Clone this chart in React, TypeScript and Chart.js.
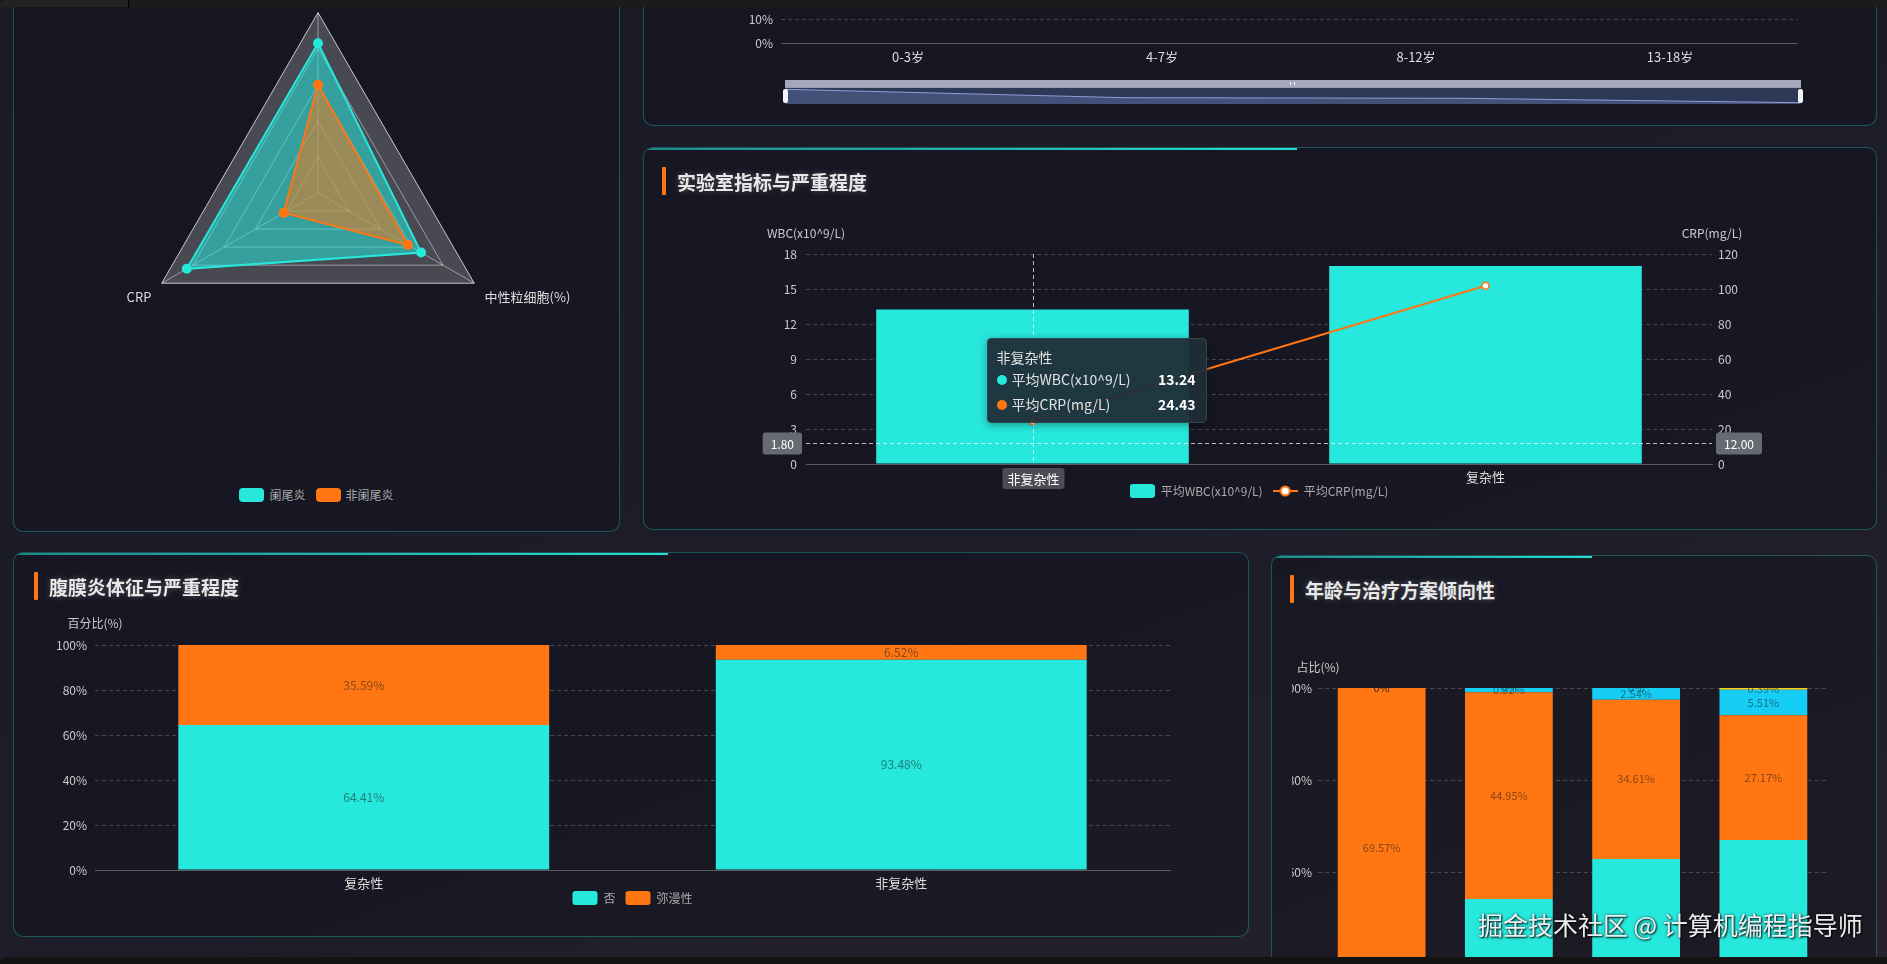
import React, { useEffect, useRef } from 'react';
import { Chart, registerables, Tooltip } from 'chart.js';

Chart.register(...registerables);

const FONT = "'Noto Sans CJK SC', 'Noto Sans', sans-serif";
const TEAL = '#27e8dc';
const ORANGE = '#ff7612';
const CYAN = '#16cdf5';
const YELLOW = '#ffd11a';
const GRID = 'rgba(255,255,255,0.2)';
const AXIS = 'rgba(255,255,255,0.3)';
const SEG_LABEL = 'rgba(30,30,30,0.55)';
const PANEL_BORDER = 'rgba(39,232,220,0.3)';
const PANEL_BG = 'rgba(12,12,20,0.28)';

// ---------------- data ----------------
const RADAR_INDICATORS = ['WBC', '中性粒细胞(%)', 'CRP'];
const RADAR_SERIES = ['阑尾炎', '非阑尾炎'];
const RADAR_APPENDICITIS = [83, 66, 84];
const RADAR_NON_APPENDICITIS = [60, 57.5, 22];

const AGE_GROUPS = ['0-3岁', '4-7岁', '8-12岁', '13-18岁'];
const AGE_SERIES = '复杂性比例';
const AGE_COMPLICATED_RATE = [52, 32, 30.5, 20];

const LAB_SEVERITY = ['非复杂性', '复杂性'];
const LAB_SERIES = ['平均WBC(x10^9/L)', '平均CRP(mg/L)'];
const AVG_WBC = [13.24, 16.98];
const AVG_CRP = [24.43, 101.9];
const LAB_POINTER_INDEX = 0;
const LAB_POINTER_WBC = 1.8;

const PERI_SEVERITY = ['复杂性', '非复杂性'];
const PERI_SERIES = ['否', '弥漫性'];
const PERI_NO = [64.41, 93.48];
const PERI_DIFFUSE = [35.59, 6.52];

const TREAT_SERIES = ['保守治疗', '手术治疗', '腹腔镜手术', '其他'];
const TREAT_A = [30.43, 54.13, 62.85, 66.93];
const TREAT_B = [69.57, 44.95, 34.61, 27.17];
const TREAT_C = [0, 0.92, 2.54, 5.51];
const TREAT_D = [0, 0, 0, 0.39];

// ---------------- helpers ----------------
function makeIcon(w: number, h: number, draw: (c: CanvasRenderingContext2D) => void) {
  const c = document.createElement('canvas');
  c.width = w;
  c.height = h;
  const ctx = c.getContext('2d');
  if (ctx) draw(ctx);
  return c;
}

const pct = (v: number) => `${+v.toFixed(2)}%`;

function segmentLabels(fontSize: number) {
  return {
    id: 'segmentLabels',
    afterDatasetsDraw(chart: any) {
      const { ctx } = chart;
      ctx.save();
      ctx.font = `${fontSize}px ${FONT}`;
      ctx.fillStyle = SEG_LABEL;
      ctx.textAlign = 'center';
      ctx.textBaseline = 'middle';
      chart.data.datasets.forEach((ds: any, di: number) => {
        const meta = chart.getDatasetMeta(di);
        meta.data.forEach((el: any, i: number) => {
          const p = el.getProps(['x', 'y', 'base'], true);
          ctx.fillText(pct(ds.data[i]), p.x, (p.y + p.base) / 2);
        });
      });
      ctx.restore();
    },
  };
}

function axisNames(left: string | null, right: string | null, offset: number) {
  return {
    id: 'axisNames',
    afterDraw(chart: any) {
      const { ctx, chartArea } = chart;
      ctx.save();
      ctx.font = `12px ${FONT}`;
      ctx.fillStyle = '#cccccc';
      ctx.textAlign = 'center';
      ctx.textBaseline = 'middle';
      if (left) ctx.fillText(left, chartArea.left, chartArea.top - offset);
      if (right) ctx.fillText(right, chartArea.right, chartArea.top - offset);
      ctx.restore();
    },
  };
}

// place the legend a fixed distance below the plot area
function legendAt(offset: number) {
  return {
    id: 'legendAt',
    afterLayout(chart: any) {
      const lg = chart.legend;
      if (!lg) return;
      const h = lg.height;
      lg.top = chart.chartArea.bottom + offset;
      lg.bottom = lg.top + h;
    },
  };
}

function labelBox(ctx: any, text: string, size: number, anchorX: number, cy: number, align: string, padX: number, h: number, bg: string, top?: number) {
  ctx.font = `${size}px ${FONT}`;
  const w = ctx.measureText(text).width + padX * 2;
  let x = anchorX - w / 2;
  if (align === 'right') x = anchorX - w;
  if (align === 'left') x = anchorX;
  const y = top !== undefined ? top : cy - h / 2;
  ctx.fillStyle = bg;
  ctx.beginPath();
  ctx.roundRect(x, y, w, h, 3);
  ctx.fill();
  ctx.fillStyle = '#ffffff';
  ctx.textAlign = 'center';
  ctx.textBaseline = 'middle';
  ctx.fillText(text, x + w / 2, y + h / 2 + 0.5);
}

const labCrosshair = {
  id: 'labCrosshair',
  afterDraw(chart: any) {
    const { ctx, chartArea, scales } = chart;
    const rawY = scales.y.getPixelForValue(LAB_POINTER_WBC);
    const x = Math.round(scales.x.getPixelForValue(LAB_POINTER_INDEX)) + 0.5;
    const y = Math.round(rawY) + 0.5;
    ctx.save();
    ctx.strokeStyle = 'rgba(255,255,255,0.7)';
    ctx.lineWidth = 1;
    ctx.setLineDash([4, 3]);
    ctx.beginPath();
    ctx.moveTo(x, chartArea.top);
    ctx.lineTo(x, chartArea.bottom);
    ctx.moveTo(chartArea.left, y);
    ctx.lineTo(chartArea.right, y);
    ctx.stroke();
    ctx.setLineDash([]);
    labelBox(ctx, LAB_POINTER_WBC.toFixed(2), 12, chartArea.left - 4, y, 'right', 8, 22, '#686a72');
    labelBox(ctx, scales.y1.getValueForPixel(rawY).toFixed(2), 12, chartArea.right + 4, y, 'left', 8, 22, '#686a72');
    labelBox(ctx, String(chart.data.labels[LAB_POINTER_INDEX]), 13, x, 0, 'center', 5, 21, '#4c4d54', chartArea.bottom + 4);
    ctx.restore();
  },
};

function externalTooltip(context: any) {
  const { chart, tooltip } = context;
  const canvas = chart.canvas as HTMLCanvasElement;
  const parent = canvas.parentElement as HTMLElement;
  let el = parent.querySelector('#lab-tooltip') as HTMLDivElement | null;
  if (!el) {
    el = document.createElement('div');
    el.id = 'lab-tooltip';
    parent.appendChild(el);
  }
  if (tooltip.opacity === 0) {
    el.style.display = 'none';
    return;
  }
  el.style.cssText = `position:absolute;box-sizing:border-box;width:220px;padding:8px 10px 5px 9px;background:rgba(31,45,56,0.95);border:1px solid #35454f;border-radius:4px;box-shadow:0 2px 8px rgba(0,0,0,0.35);color:#e2e2e2;font-size:14px;font-family:${FONT};z-index:6;pointer-events:none;`;
  const title = (tooltip.title && tooltip.title[0]) || '';
  const rows = tooltip.dataPoints
    .map((dp: any) => {
      const color = dp.dataset.tipColor;
      return `<div style="display:flex;align-items:center;height:25px;line-height:25px"><span style="width:10px;height:10px;border-radius:50%;background:${color};margin-right:5px;flex:none"></span><span style="flex:1;white-space:nowrap">${dp.dataset.label}</span><span style="font-weight:700;color:#ffffff">${Number(dp.raw).toFixed(2)}</span></div>`;
    })
    .join('');
  el.innerHTML = `<div style="height:20px;line-height:20px;white-space:nowrap">${title}</div>${rows}`;
  const h = el.offsetHeight;
  el.style.left = `${canvas.offsetLeft + tooltip.caretX + 22}px`;
  el.style.top = `${canvas.offsetTop + tooltip.caretY - h - 20}px`;
}

(Tooltip.positioners as any).pointer = function (_els: any, pos: any) {
  return pos ? { x: pos.x, y: pos.y } : false;
};

const yGrid = {
  color: (c: any) => (c.tick && c.tick.value === 0 ? 'rgba(0,0,0,0)' : GRID),
  drawTicks: false,
};

// ---------------- layout pieces ----------------
const Panel = ({ left, top, width, height, accent }: any) => (
  <div
    style={{
      position: 'absolute', left, top, width, height, boxSizing: 'border-box',
      border: `1px solid ${PANEL_BORDER}`, borderRadius: 10, background: PANEL_BG, overflow: 'hidden', zIndex: 0,
    }}
  >
    {accent && (
      <div style={{ position: 'absolute', left: 0, top: 0, width: '53%', height: 2, background: 'linear-gradient(90deg, rgba(39,232,220,0.55), rgba(39,232,220,0.95))' }} />
    )}
  </div>
);

const Title = ({ left, top, text }: any) => (
  <>
    <div style={{ position: 'absolute', left, top, width: 4, height: 28, background: ORANGE, borderRadius: 1, zIndex: 3 }} />
    <div
      style={{
        position: 'absolute', left: left + 15, top: top + 1, height: 28, lineHeight: '28px', fontSize: 19, fontWeight: 700,
        color: '#e8e8e8', textShadow: '0 0 6px rgba(255,255,255,0.25)', whiteSpace: 'nowrap', zIndex: 3,
      }}
    >
      {text}
    </div>
  </>
);

const cv = (left: number, top: number, w: number, h: number, z = 2) => ({
  width: w,
  height: h,
  style: { position: 'absolute' as const, left, top, width: w, height: h, zIndex: z },
});

export default function App() {
  const radarRef = useRef<HTMLCanvasElement>(null);
  const ageRef = useRef<HTMLCanvasElement>(null);
  const miniRef = useRef<HTMLCanvasElement>(null);
  const labRef = useRef<HTMLCanvasElement>(null);
  const periRef = useRef<HTMLCanvasElement>(null);
  const treatRef = useRef<HTMLCanvasElement>(null);

  useEffect(() => {
    Chart.defaults.font.family = FONT;
    Chart.defaults.color = '#cccccc';
    const charts: any[] = [];

    // radar
    charts.push(
      new Chart(radarRef.current as HTMLCanvasElement, {
        type: 'radar',
        data: {
          labels: RADAR_INDICATORS,
          datasets: [
            {
              label: RADAR_SERIES[0], data: RADAR_APPENDICITIS, borderColor: TEAL, backgroundColor: 'rgba(39,232,220,0.55)',
              borderWidth: 2, pointRadius: 4, pointBackgroundColor: TEAL, pointBorderColor: TEAL, order: 2,
            },
            {
              label: RADAR_SERIES[1], data: RADAR_NON_APPENDICITIS, borderColor: ORANGE, backgroundColor: 'rgba(255,118,18,0.5)',
              borderWidth: 2, pointRadius: 4, pointBackgroundColor: ORANGE, pointBorderColor: ORANGE, order: 1,
            },
          ],
        },
        options: {
          animation: false, responsive: false,
          plugins: { legend: { display: false }, tooltip: { enabled: false } },
          scales: {
            r: {
              min: 0, max: 100,
              ticks: { display: false, stepSize: 20 },
              backgroundColor: 'rgba(255,255,255,0.22)',
              grid: { color: (c: any) => (c.index === 5 ? '#c8c8d0' : 'rgba(255,255,255,0.45)'), lineWidth: 1 },
              angleLines: { color: 'rgba(255,255,255,0.45)' },
              pointLabels: { color: '#dddddd', font: { size: 13 }, padding: (c: any) => (c.index === 0 ? 5 : 12) },
            },
          },
        } as any,
      })
    );

    // top-right age line (mostly above viewport)
    charts.push(
      new Chart(ageRef.current as HTMLCanvasElement, {
        type: 'line',
        data: {
          labels: AGE_GROUPS,
          datasets: [{ label: AGE_SERIES, data: AGE_COMPLICATED_RATE, borderColor: TEAL, backgroundColor: TEAL, borderWidth: 2, pointRadius: 4 }],
        },
        options: {
          animation: false, responsive: false,
          layout: { padding: { left: 81, right: 73, top: 29, bottom: 7 } },
          plugins: { legend: { display: false }, tooltip: { enabled: false } },
          scales: {
            x: {
              offset: true, grid: { display: false, drawTicks: false }, border: { color: AXIS },
              ticks: { color: '#dddddd', font: { size: 13 }, padding: 6 },
              afterFit: (s: any) => { s.height = 20; },
            },
            y: {
              min: 0, max: 60, grid: yGrid, border: { display: false, dash: [4, 3] },
              ticks: { stepSize: 10, color: '#cccccc', font: { size: 12 }, padding: 8, callback: (v: any) => `${v}%` },
              afterFit: (s: any) => { s.width = 50; },
            },
          },
        } as any,
      })
    );

    // data-zoom shadow
    const amin = Math.min(...AGE_COMPLICATED_RATE);
    const amax = Math.max(...AGE_COMPLICATED_RATE);
    const pad = (amax - amin) * 0.1;
    charts.push(
      new Chart(miniRef.current as HTMLCanvasElement, {
        type: 'line',
        data: {
          labels: AGE_GROUPS,
          datasets: [{
            data: AGE_COMPLICATED_RATE, borderColor: 'rgba(150,168,228,0.9)', borderWidth: 1,
            backgroundColor: 'rgba(120,140,200,0.3)', fill: 'start', pointRadius: 0, tension: 0,
          }],
        },
        options: {
          animation: false, responsive: false, layout: { padding: 0 },
          plugins: { legend: { display: false }, tooltip: { enabled: false } },
          scales: { x: { display: false }, y: { display: false, min: amin - pad, max: amax + pad } },
        } as any,
      })
    );

    // lab chart
    const boxIcon = makeIcon(25, 14, (c) => {
      c.fillStyle = TEAL;
      c.beginPath();
      (c as any).roundRect(0, 0, 25, 14, 3);
      c.fill();
    });
    const lineIcon = makeIcon(25, 14, (c) => {
      c.strokeStyle = ORANGE;
      c.lineWidth = 2;
      c.beginPath();
      c.moveTo(0, 7);
      c.lineTo(25, 7);
      c.stroke();
      c.beginPath();
      c.arc(12.5, 7, 4.5, 0, Math.PI * 2);
      c.fillStyle = '#ffffff';
      c.fill();
      c.stroke();
    });
    const icons = [boxIcon, lineIcon];
    const lab = new Chart(labRef.current as HTMLCanvasElement, {
      type: 'bar',
      data: {
        labels: LAB_SEVERITY,
        datasets: [
          {
            type: 'bar', label: LAB_SERIES[0], data: AVG_WBC, backgroundColor: TEAL, yAxisID: 'y',
            barPercentage: 0.69, categoryPercentage: 1, order: 2, tipColor: TEAL,
          },
          {
            type: 'line', label: LAB_SERIES[1], data: AVG_CRP, borderColor: ORANGE, backgroundColor: ORANGE, borderWidth: 2,
            pointRadius: 3.5, pointBackgroundColor: '#ffffff', pointBorderColor: ORANGE, pointBorderWidth: 1.5,
            yAxisID: 'y1', order: 1, tipColor: ORANGE,
          },
        ] as any,
      },
      options: {
        animation: false, responsive: false,
        layout: { padding: { left: 100, right: 100, top: 54, bottom: 8 } },
        scales: {
          x: {
            grid: { display: false, drawTicks: false }, border: { color: AXIS },
            ticks: { color: '#dddddd', font: { size: 13 }, padding: 5 },
            afterFit: (s: any) => { s.height = 24; },
          },
          y: {
            position: 'left', min: 0, max: 18, grid: yGrid, border: { display: false, dash: [4, 3] },
            ticks: { stepSize: 3, color: '#cccccc', font: { size: 12 }, padding: 9 },
            afterFit: (s: any) => { s.width = 56; },
          },
          y1: {
            position: 'right', min: 0, max: 120, grid: { drawOnChartArea: false, drawTicks: false }, border: { display: false },
            ticks: { stepSize: 20, color: '#cccccc', font: { size: 12 }, padding: 6 },
            afterFit: (s: any) => { s.width = 56; },
          },
        },
        plugins: {
          legend: {
            position: 'bottom',
            labels: {
              usePointStyle: true, pointStyleWidth: 25, boxHeight: 14, padding: 10, color: '#aaaaaa', font: { size: 12 },
              sort: (a: any, b: any) => a.datasetIndex - b.datasetIndex,
              generateLabels: (chart: any) => {
                const items = (Chart.defaults.plugins.legend.labels as any).generateLabels(chart);
                items.forEach((it: any) => { it.pointStyle = icons[it.datasetIndex]; });
                return items;
              },
            },
          },
          tooltip: { enabled: false, position: 'pointer', external: externalTooltip },
        },
      } as any,
      plugins: [axisNames('WBC(x10^9/L)', 'CRP(mg/L)', 21), labCrosshair, legendAt(11)] as any,
    });
    charts.push(lab);
    const px = (lab.scales as any).x.getPixelForValue(LAB_POINTER_INDEX) - 68;
    const py = (lab.scales as any).y.getPixelForValue(LAB_POINTER_WBC);
    lab.tooltip!.setActiveElements(
      [{ datasetIndex: 0, index: LAB_POINTER_INDEX }, { datasetIndex: 1, index: LAB_POINTER_INDEX }],
      { x: px, y: py }
    );

    // peritonitis stacked
    charts.push(
      new Chart(periRef.current as HTMLCanvasElement, {
        type: 'bar',
        data: {
          labels: PERI_SEVERITY,
          datasets: [
            { label: PERI_SERIES[0], data: PERI_NO, backgroundColor: TEAL, barPercentage: 0.69, categoryPercentage: 1 },
            { label: PERI_SERIES[1], data: PERI_DIFFUSE, backgroundColor: ORANGE, barPercentage: 0.69, categoryPercentage: 1 },
          ],
        },
        options: {
          animation: false, responsive: false,
          layout: { padding: { left: 20, right: 20, top: 45, bottom: 10 } },
          scales: {
            x: {
              stacked: true, grid: { display: false, drawTicks: false }, border: { color: AXIS },
              ticks: { color: '#dddddd', font: { size: 13 }, padding: 5 },
              afterFit: (s: any) => { s.height = 24; },
            },
            y: {
              stacked: true, min: 0, max: 100, grid: yGrid, border: { display: false, dash: [4, 3] },
              ticks: { stepSize: 20, color: '#cccccc', font: { size: 12 }, padding: 8, callback: (v: any) => `${v}%` },
              afterFit: (s: any) => { s.width = 55; },
            },
            yPad: {
              position: 'right', display: true, grid: { drawOnChartArea: false, drawTicks: false }, border: { display: false },
              ticks: { display: false },
              afterFit: (s: any) => { s.width = 55; },
            },
          },
          plugins: {
            legend: {
              position: 'bottom',
              labels: { boxWidth: 25, boxHeight: 14, useBorderRadius: true, borderRadius: 3, padding: 10, color: '#aaaaaa', font: { size: 12 } },
            },
            tooltip: { enabled: false },
          },
        } as any,
        plugins: [axisNames('百分比(%)', null, 22), segmentLabels(12), legendAt(11)] as any,
      })
    );

    // age vs treatment stacked
    const treatSets = [TREAT_A, TREAT_B, TREAT_C, TREAT_D];
    const treatColors = [TEAL, ORANGE, CYAN, YELLOW];
    charts.push(
      new Chart(treatRef.current as HTMLCanvasElement, {
        type: 'bar',
        data: {
          labels: AGE_GROUPS,
          datasets: treatSets.map((d, i) => ({
            label: TREAT_SERIES[i], data: d, backgroundColor: treatColors[i], barPercentage: 0.69, categoryPercentage: 1,
          })),
        },
        options: {
          animation: false, responsive: false,
          layout: { padding: { left: 0, right: 30, top: 68, bottom: 14 } },
          scales: {
            x: {
              stacked: true, grid: { display: false, drawTicks: false }, border: { color: AXIS },
              ticks: { color: '#dddddd', font: { size: 13 }, padding: 5 },
              afterFit: (s: any) => { s.height = 24; },
            },
            y: {
              stacked: true, min: 0, max: 100, grid: yGrid, border: { display: false, dash: [4, 3] },
              ticks: { stepSize: 20, color: '#cccccc', font: { size: 12 }, padding: 6, callback: (v: any) => `${v}%` },
              afterFit: (s: any) => { s.width = 26; },
            },
          },
          plugins: {
            legend: {
              position: 'bottom',
              labels: { boxWidth: 25, boxHeight: 14, useBorderRadius: true, borderRadius: 3, padding: 10, color: '#aaaaaa', font: { size: 12 } },
            },
            tooltip: { enabled: false },
          },
        } as any,
        plugins: [axisNames('占比(%)', null, 21), segmentLabels(11)] as any,
      })
    );

    return () => {
      charts.forEach((c) => c.destroy());
      const tip = document.getElementById('lab-tooltip');
      if (tip && tip.parentElement) tip.parentElement.removeChild(tip);
    };
  }, []);

  return (
    <div
      style={{
        position: 'fixed', left: 0, top: 0, width: 1887, height: 964, overflow: 'hidden', fontFamily: FONT,
        background: 'linear-gradient(160deg, #1a1b27 0%, #1c1d29 55%, #25222b 100%)',
      }}
    >
      <Panel left={13} top={-60} width={607} height={592} />
      <Panel left={643} top={-300} width={1234} height={426} />
      <Panel left={643} top={147} width={1234} height={383} accent />
      <Panel left={13} top={552} width={1236} height={385} accent />
      <Panel left={1271} top={555} width={606} height={560} accent />

      <Title left={662} top={167} text="实验室指标与严重程度" />
      <Title left={34} top={572} text="腹膜炎体征与严重程度" />
      <Title left={1290} top={575} text="年龄与治疗方案倾向性" />

      <canvas ref={radarRef} {...cv(16, -18, 604, 403)} />
      <div
        style={{
          position: 'absolute', left: 13, width: 607, top: 488, display: 'flex', justifyContent: 'center', gap: 10,
          zIndex: 3, fontSize: 12, color: '#aaaaaa', lineHeight: '14px',
        }}
      >
        {RADAR_SERIES.map((name, i) => (
          <div key={name} style={{ display: 'flex', alignItems: 'center' }}>
            <span style={{ display: 'inline-block', width: 25, height: 14, borderRadius: 4, background: i === 0 ? TEAL : ORANGE, marginRight: 5 }} />
            <span>{name}</span>
          </div>
        ))}
      </div>

      <canvas ref={ageRef} {...cv(650, -130, 1220, 200)} />
      {/* data zoom slider */}
      <div style={{ position: 'absolute', left: 785, top: 80, width: 1016, height: 7, background: '#a5a8ba', zIndex: 2 }} />
      <div style={{ position: 'absolute', left: 1290, top: 82, width: 3, height: 3, borderLeft: '1px solid #ffffff', borderRight: '1px solid #ffffff', zIndex: 3 }} />
      <div style={{ position: 'absolute', left: 785, top: 87, width: 1016, height: 17, background: 'rgba(62,78,122,0.6)', borderTop: '1px solid rgba(220,225,240,0.6)', boxSizing: 'border-box', zIndex: 1 }} />
      <canvas ref={miniRef} {...cv(786, 88, 1014, 16)} />
      <div style={{ position: 'absolute', left: 783, top: 89, width: 5, height: 14, background: '#f4f4f4', borderRadius: 2, zIndex: 3 }} />
      <div style={{ position: 'absolute', left: 1798, top: 89, width: 5, height: 14, background: '#f4f4f4', borderRadius: 2, zIndex: 3 }} />

      <canvas ref={labRef} {...cv(650, 200, 1218, 328)} />
      <canvas ref={periRef} {...cv(20, 600, 1225, 338)} />
      <canvas ref={treatRef} {...cv(1292, 620, 565, 600)} />

      <div
        style={{
          position: 'absolute', left: 1478, top: 910, fontSize: 25, lineHeight: '28px', color: 'rgba(255,255,255,0.92)',
          textShadow: '1px 1px 2px rgba(0,0,0,0.9), 0 0 3px rgba(0,0,0,0.6)', whiteSpace: 'nowrap', zIndex: 11,
        }}
      >
        掘金技术社区 @ 计算机编程指导师
      </div>

      <div style={{ position: 'absolute', left: 0, top: 0, width: 1887, height: 7, background: '#1b1b1b', zIndex: 10 }} />
      <div style={{ position: 'absolute', left: 0, top: 0, width: 128, height: 7, background: '#222222', borderRight: '1px solid #000000', borderTopLeftRadius: 6, zIndex: 10 }} />
      <div style={{ position: 'absolute', left: 0, top: 957, width: 1887, height: 7, background: '#141414', borderTopLeftRadius: 6, zIndex: 10 }} />
    </div>
  );
}
